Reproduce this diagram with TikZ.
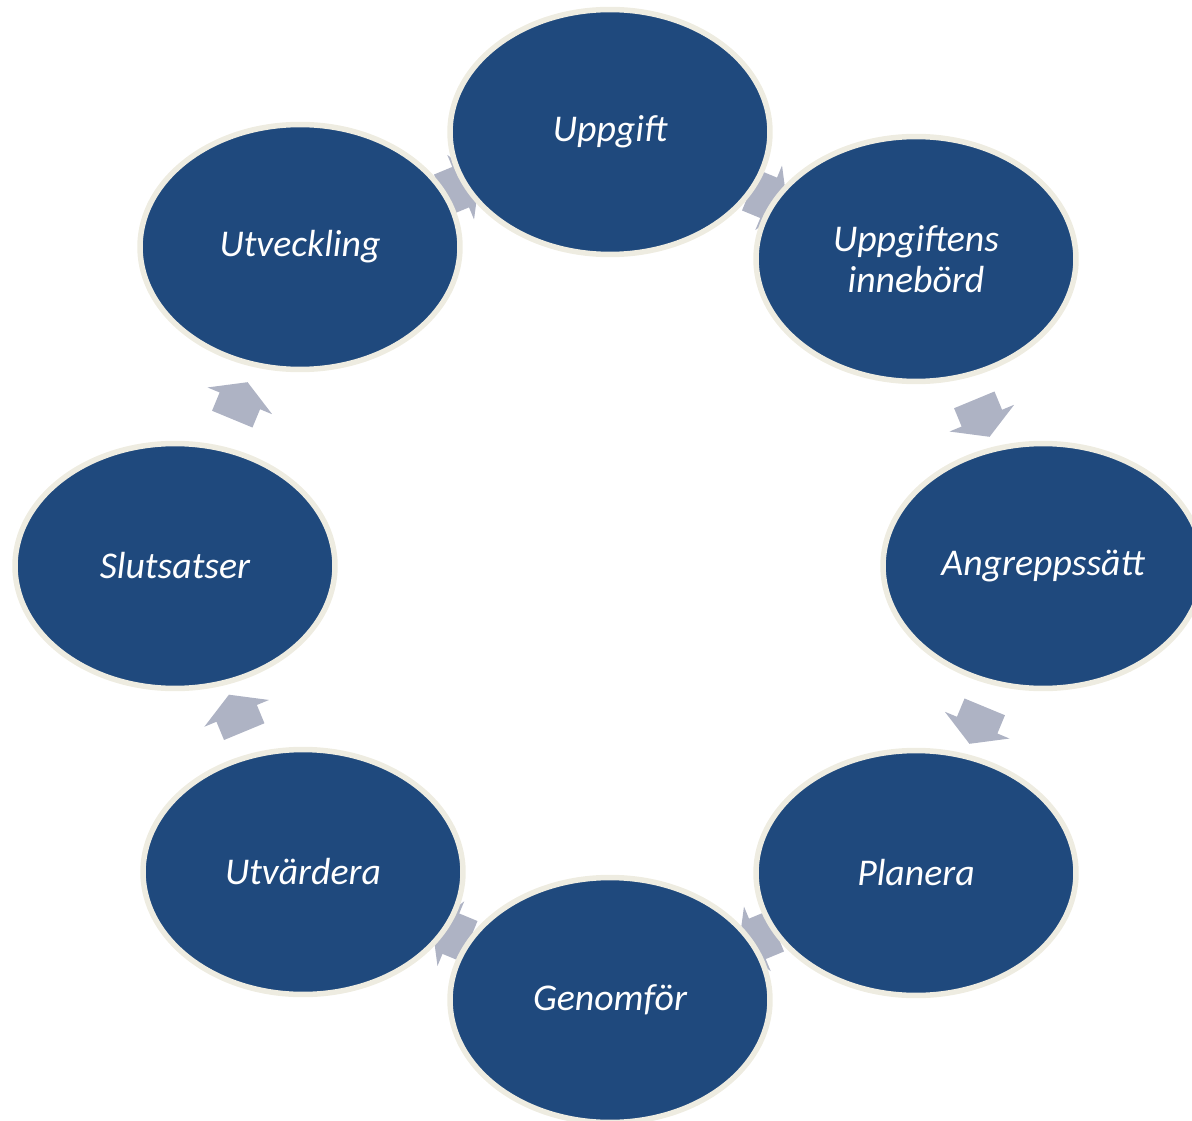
\documentclass[tikz,border=0pt]{standalone}
\usepackage{fontspec}
\setmainfont{Carlito}
\usetikzlibrary{positioning, shapes.geometric, shapes.arrows, calc}
\definecolor{stageblue}{HTML}{1F497D}
\definecolor{stagerim}{HTML}{EEECE1}
\definecolor{cyclegrey}{HTML}{AEB3C4}
\pgfdeclarelayer{back}
\pgfsetlayers{back,main}
\tikzset{
  stage/.style={ellipse, fill=stageblue, draw=stagerim, line width=0.11cm,
    minimum width=6.4cm, minimum height=4.9cm, text=white,
    font=\fontsize{21.5}{23}\selectfont\itshape, align=center},
  turn/.style={single arrow, fill=cyclegrey, draw=none, minimum height=0.8cm,
    minimum width=1.4cm, inner xsep=0pt, inner ysep=0.41cm,
    single arrow tip angle=120}
}

\begin{document}
\begin{tikzpicture}[x=0.02cm, y=-0.02cm]
    \useasboundingbox (0,0) rectangle (1192,1121);
    % stages of the cycle
    \node[stage] (uppgift) at (610,132) {Uppgift};
    \node[stage] (innebord) at (916,259) {Uppgiftens\\innebörd};
    \node[stage] (angrepp) at (1043,566) {Angreppssätt};
    \node[stage] (planera) at (916,873) {Planera};
    \node[stage] (genomfor) at (610,1000) {Genomför};
    \node[stage] (utvardera) at (303,872) {Utvärdera};
    \node[stage] (slutsatser) at (175,566) {Slutsatser};
    \node[stage] (utveckling) at (300,247) {Utveckling};
    % arrows behind the stages
    \begin{pgfonlayer}{back}
    \foreach \from/\to/\ang in {uppgift/innebord/-22.5, innebord/angrepp/-67.5,
        angrepp/planera/-112.5, planera/genomfor/-157.5, genomfor/utvardera/157.5,
        utvardera/slutsatser/112.5, slutsatser/utveckling/67.5, utveckling/uppgift/22.5}
        \node[turn, rotate=\ang] (\from-\to) at ($(\from)!0.5!(\to)$) {};
    \end{pgfonlayer}
\end{tikzpicture}
\end{document}
